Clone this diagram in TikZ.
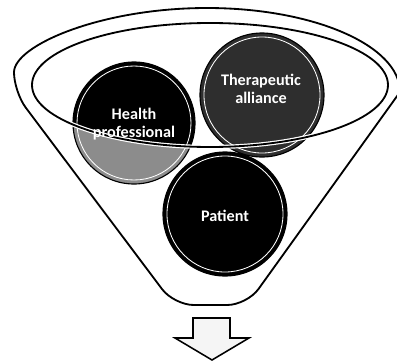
\documentclass[tikz,border=0pt]{standalone}
\usepackage{fontspec}
\setsansfont{Carlito}
\begin{document}
\begin{tikzpicture}[x=0.025cm, y=-0.025cm,
    funnel/.style={draw=black, line width=1.3pt, fill=white},
    rim/.style={draw=black, line width=0.8pt},
    ring/.style={draw=white, line width=0.6pt},
    balltext/.style={align=center, text=white, font=\sffamily\bfseries\fontsize{11.5}{12.5}\selectfont, inner sep=0pt},
    downarrow/.style={draw=black, line width=1.1pt, fill=black!4, line join=miter}]
  \useasboundingbox (0,0) rectangle (397,362);

  % ---- the funnel body ----
  \draw[funnel] (14,92) arc[start angle=180, end angle=360, x radius=193, y radius=84]
    [rounded corners=14] -- (247,305) -- (174,305) -- cycle;

  % ---- the three balls ----
  \fill[black] (134,123) circle (61);
  \begin{scope}
    \clip (134,123) circle (61);
    \fill[black!45, even odd rule] (134,123) circle (70) (210,85) ellipse (178 and 62);
  \end{scope}
  \fill[black!82] (262,95) circle (62);
  \fill[black]    (225,214) circle (62);
  \begin{scope}[rim]
    \draw (134,123) circle (61);
    \draw (262,95)  circle (62);
    \draw (225,214) circle (62);
  \end{scope}
  \begin{scope}[ring]
    \draw (134,123) circle (57);
    \draw (262,95)  circle (58);
    \draw (225,214) circle (58);
  \end{scope}

  % ---- the mouth of the funnel, over the balls ----
  \draw[white, line width=3pt]   (210,85) ellipse (178 and 62);
  \draw[black, line width=1.3pt] (210,85) ellipse (178 and 62);

  % ---- labels ----
  \node[balltext] (hp) at (134,124) {Health\\professional};
  \node[balltext] (ta) at (261,89)  {Therapeutic\\alliance};
  \node[balltext] (pt) at (225,216) {Patient};

  % ---- what comes out ----
  \draw[downarrow] (193,318) -- (230,318) -- (230,338) -- (249,338)
    -- (212,360) -- (175,338) -- (193,338) -- cycle;
\end{tikzpicture}
\end{document}
